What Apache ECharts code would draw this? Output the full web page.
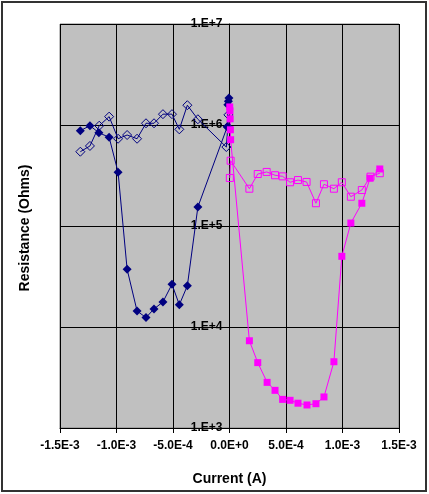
<!DOCTYPE html>
<html>
<head>
<meta charset="utf-8">
<script src="https://cdn.jsdelivr.net/npm/echarts@6/dist/echarts.min.js"></script>
<style>
  html, body { margin: 0; padding: 0; background: #fff; }
  #chart { width: 429px; height: 494px; }
</style>
</head>
<body>
<div id="chart"></div>
<script>
// negative sweep, filled diamonds
var iNegFwd = [-1.32e-3, -1.235e-3, -1.156e-3, -1.065e-3, -0.986e-3, -0.906e-3, -0.818e-3, -0.739e-3, -0.668e-3, -0.589e-3, -0.509e-3, -0.444e-3, -0.373e-3, -0.280e-3, -2e-5, -1.5e-5, -1e-5, -5e-6];
var rNegFwd = [8.79e5, 9.84e5, 8.39e5, 7.55e5, 3.40e5, 3.73e4, 1.44e4, 1.24e4, 1.51e4, 1.77e4, 2.65e4, 1.66e4, 2.56e4, 1.54e5, 9.6e5, 1.59e6, 1.72e6, 1.85e6];
// negative sweep, hollow diamonds
var iNegRev = [-1.32e-3, -1.235e-3, -1.153e-3, -1.065e-3, -0.986e-3, -0.906e-3, -0.818e-3, -0.739e-3, -0.668e-3, -0.589e-3, -0.509e-3, -0.444e-3, -0.373e-3, -0.280e-3, -2.8e-5, -1.5e-5, -1e-5];
var rNegRev = [5.44e5, 6.2e5, 9.84e5, 1.21e6, 7.31e5, 7.96e5, 7.31e5, 1.04e6, 1.04e6, 1.28e6, 1.28e6, 9.06e5, 1.57e6, 1.14e6, 6.05e5, 9.6e5, 1.26e6];
// positive sweep, filled squares
var iPosFwd = [2e-6, 4e-6, 6e-6, 8e-6, 1e-5, 0.176e-3, 0.250e-3, 0.333e-3, 0.403e-3, 0.470e-3, 0.536e-3, 0.606e-3, 0.686e-3, 0.765e-3, 0.836e-3, 0.924e-3, 0.994e-3, 1.074e-3, 1.171e-3, 1.244e-3, 1.330e-3];
var rPosFwd = [1.51e6, 1.38e6, 1.15e6, 8.97e5, 7.15e5, 7.31e3, 4.44e3, 2.83e3, 2.36e3, 1.92e3, 1.88e3, 1.76e3, 1.69e3, 1.74e3, 2.03e3, 4.53e3, 5.01e4, 1.07e5, 1.68e5, 2.97e5, 3.67e5];
// positive sweep, hollow squares
var iPosRev = [3e-6, 1e-5, 0.176e-3, 0.250e-3, 0.329e-3, 0.403e-3, 0.470e-3, 0.536e-3, 0.606e-3, 0.682e-3, 0.765e-3, 0.836e-3, 0.924e-3, 0.994e-3, 1.074e-3, 1.171e-3, 1.248e-3, 1.330e-3];
var rPosRev = [2.99e5, 4.43e5, 2.34e5, 3.27e5, 3.43e5, 3.18e5, 3.10e5, 2.71e5, 2.85e5, 2.73e5, 1.68e5, 2.59e5, 2.34e5, 2.71e5, 1.95e5, 2.27e5, 3.08e5, 3.33e5];

function pairs(xs, ys) {
  return xs.map(function (x, i) { return [x, ys[i]]; });
}

function line(data, color, symbol, hollow) {
  return {
    type: 'line',
    data: data,
    symbol: symbol,
    symbolSize: symbol === 'rect' ? 7 : 9,
    showAllSymbol: true,
    lineStyle: { color: color, width: 1 },
    itemStyle: hollow
      ? { color: 'transparent', borderColor: color, borderWidth: 1 }
      : { color: color, borderColor: color, borderWidth: 0 },
    emphasis: { disabled: true },
    animation: false
  };
}

var chart = echarts.init(document.getElementById('chart'));
var FONT = 'Liberation Sans, Arial, sans-serif';
var GRID_L = 60, GRID_R = 30;
// the resistance axis crosses the current axis at 0 A
var yOffset = -(429 - GRID_L - GRID_R) / 2;

var option = {
  backgroundColor: '#fff',
  animation: false,
  grid: {
    left: GRID_L, right: GRID_R, top: 24, bottom: 66,
    show: true,
    backgroundColor: '#C0C0C0',
    borderColor: '#808080',
    borderWidth: 1
  },
  graphic: [
    {
      type: 'rect',
      shape: { x: 2, y: 2, width: 424, height: 489 },
      style: { fill: 'none', stroke: '#333', lineWidth: 2 },
      silent: true
    },
    {
      type: 'text',
      x: 25, y: 228,
      rotation: Math.PI / 2,
      style: {
        text: 'Resistance (Ohms)',
        font: 'bold 14px ' + FONT,
        fill: '#000',
        align: 'center',
        verticalAlign: 'middle'
      }
    }
  ],
  xAxis: {
    type: 'value',
    min: -1.5e-3,
    max: 1.5e-3,
    interval: 5e-4,
    name: 'Current (A)',
    nameLocation: 'middle',
    nameGap: 44,
    nameTextStyle: { fontFamily: FONT, fontWeight: 'bold', fontSize: 14, color: '#000' },
    axisLine: { onZero: false, lineStyle: { color: '#000', width: 1 } },
    axisTick: { show: true, length: 5, lineStyle: { color: '#000' } },
    axisLabel: {
      fontFamily: FONT, fontWeight: 'bold', fontSize: 12, color: '#000', margin: 12,
      formatter: function (v) { return v.toExponential(1).toUpperCase(); }
    },
    splitLine: { show: true, lineStyle: { color: '#000', width: 1 } }
  },
  yAxis: {
    type: 'log',
    logBase: 10,
    min: 1e3,
    max: 1e7,
    position: 'left',
    offset: yOffset,
    axisLine: { onZero: false, lineStyle: { color: '#000', width: 1 } },
    axisTick: { show: true, length: 4, lineStyle: { color: '#000' } },
    axisLabel: {
      fontFamily: FONT, fontWeight: 'bold', fontSize: 12, color: '#000', margin: 7,
      formatter: function (v) { return '1.E+' + Math.round(Math.log10(v)); }
    },
    splitLine: { show: true, lineStyle: { color: '#000', width: 1 } },
    minorTick: { show: false }
  },
  series: [
    line(pairs(iNegRev, rNegRev), '#000080', 'diamond', true),
    line(pairs(iNegFwd, rNegFwd), '#000080', 'diamond', false),
    line(pairs(iPosRev, rPosRev), '#FF00FF', 'rect', true),
    line(pairs(iPosFwd, rPosFwd), '#FF00FF', 'rect', false)
  ]
};

chart.setOption(option);
</script>
</body>
</html>
